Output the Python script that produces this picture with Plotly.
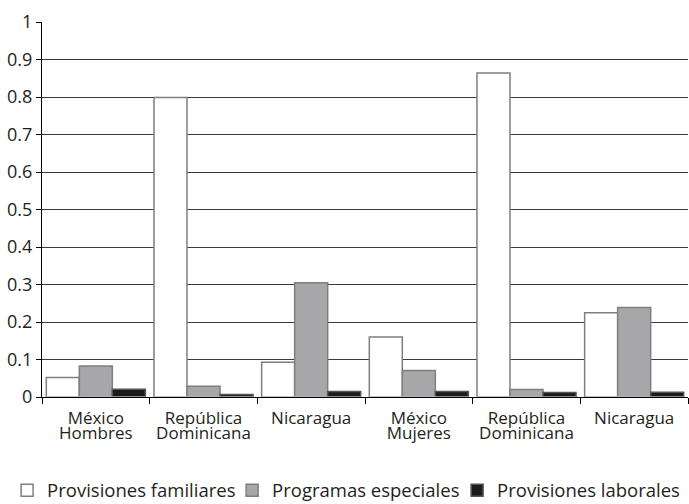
import plotly.graph_objects as go

# Category groups along the x axis (two lines per label)
categories = [
    "México<br>Hombres",
    "República<br>Dominicana",
    "Nicaragua",
    "México<br>Mujeres",
    "República<br>Dominicana",
    "Nicaragua",
]

# Series values for each group
provisiones_familiares = [0.052, 0.799, 0.093, 0.160, 0.864, 0.225]
programas_especiales = [0.083, 0.029, 0.305, 0.071, 0.020, 0.239]
provisiones_laborales = [0.021, 0.007, 0.015, 0.015, 0.012, 0.013]

series_names = ["Provisiones familiares", "Programas especiales", "Provisiones laborales"]
y_ticks = [0, 0.1, 0.2, 0.3, 0.4, 0.5, 0.6, 0.7, 0.8, 0.9, 1]

x_pos = list(range(len(categories)))
boundaries = [i - 0.5 for i in range(len(categories) + 1)]

# Split each label into its two lines so they can be set with tight leading
first_line = [c.split("<br>")[0] for c in categories]
second_line = [(c.split("<br>") + [""])[1] for c in categories]

FONT = "'Open Sans', Lato, sans-serif"
TEXT = "#231f20"

fig = go.Figure()
styles = [
    ("#ffffff", "#7f7f7f"),
    ("#a7a7a9", "#7f7f7f"),
    ("#1c1c1c", "#555555"),
]
for name, vals, (fill, edge) in zip(
    series_names,
    [provisiones_familiares, programas_especiales, provisiones_laborales],
    styles,
):
    fig.add_trace(
        go.Bar(
            x=x_pos,
            y=vals,
            name=name,
            marker=dict(color=fill, line=dict(color=edge, width=1.5)),
        )
    )

fig.update_layout(
    width=689,
    height=504,
    margin=dict(l=42, r=1, t=22, b=107, autoexpand=False),
    paper_bgcolor="white",
    plot_bgcolor="white",
    barmode="group",
    bargap=0.08,
    bargroupgap=0,
    font=dict(family=FONT, size=18, color=TEXT),
    showlegend=True,
    legend=dict(
        orientation="h",
        x=-0.054,
        xanchor="left",
        y=-0.25,
        yanchor="middle",
        itemwidth=30,
        entrywidth=180,
        font=dict(size=18.5, color=TEXT),
        traceorder="normal",
    ),
    xaxis=dict(
        range=[-0.5, len(categories) - 0.5],
        tickmode="array",
        tickvals=x_pos,
        ticktext=first_line,
        ticks="",
        ticklabelstandoff=6,
        showgrid=False,
        showline=True,
        linecolor="#000000",
        linewidth=1,
        zeroline=False,
        tickfont=dict(size=17, color=TEXT),
        minor=dict(
            tickmode="array",
            tickvals=boundaries,
            ticks="outside",
            ticklen=6,
            tickcolor="#000000",
            tickwidth=1,
            showgrid=False,
        ),
    ),
    xaxis2=dict(
        overlaying="x",
        matches="x",
        anchor="y",
        side="bottom",
        tickmode="array",
        tickvals=x_pos,
        ticktext=second_line,
        ticks="",
        ticklabelstandoff=24,
        showgrid=False,
        showline=False,
        zeroline=False,
        tickfont=dict(size=17, color=TEXT),
    ),
    yaxis=dict(
        range=[0, 1],
        tickmode="array",
        tickvals=y_ticks,
        ticktext=[("%g" % v) for v in y_ticks],
        ticks="outside",
        ticklen=5,
        tickcolor="#000000",
        showgrid=True,
        gridcolor="#3a3a3a",
        gridwidth=1,
        showline=True,
        linecolor="#000000",
        linewidth=1,
        zeroline=False,
        tickfont=dict(size=18, color=TEXT),
    ),
)

# Empty trace on the second x axis so its labels are drawn
fig.add_trace(
    go.Bar(x=x_pos, y=[0] * len(x_pos), xaxis="x2", showlegend=False,
           hoverinfo="skip", marker=dict(color="rgba(0,0,0,0)"))
)

fig.write_html("out.html")
